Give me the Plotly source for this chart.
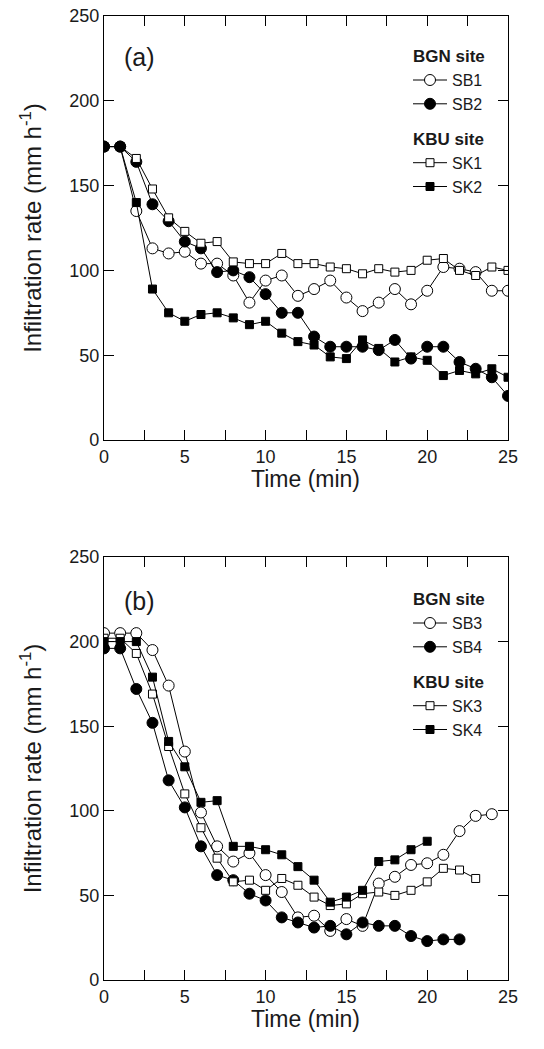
import plotly.graph_objects as go
from plotly.subplots import make_subplots

# time axis (min)
time_a = list(range(0, 26))
time_b = list(range(0, 25))

# panel (a) infiltration rates (mm h-1)
sb1 = [173, 173, 135, 113, 110, 111, 104, 104, 97, 81, 94, 97, 85, 89, 94, 84,
       76, 81, 89, 80, 88, 102, 101, 99, 88, 88]
sb2 = [173, 173, 164, 139, 129, 117, 113, 99, 100, 96, 86, 75, 75, 61, 55, 55,
       55, 53, 59, 48, 55, 55, 46, 42, 37, 26]
sk1 = [173, 173, 166, 148, 131, 123, 116, 117, 105, 104, 104, 110, 104, 104, 102, 101,
       98, 101, 99, 100, 106, 107, 100, 97, 102, 100]
sk2 = [173, 173, 140, 89, 75, 70, 74, 75, 72, 68, 70, 63, 58, 56, 49, 48,
       59, 54, 46, 49, 47, 38, 41, 39, 42, 37]

# panel (b)
sb3 = [205, 205, 205, 195, 174, 135, 99, 79, 70, 75, 62, 52, 37, 38, 29, 36,
       32, 57, 61, 68, 69, 74, 88, 97, 98]
sb4 = [196, 196, 172, 152, 118, 102, 79, 62, 59, 51, 47, 37, 34, 31, 32, 27,
       34, 32, 32, 26, 23, 24, 24]
sk3 = [202, 202, 193, 169, 138, 110, 90, 72, 58, 59, 53, 60, 56, 49, 44, 45,
       51, 52, 50, 53, 58, 66, 65, 60]
sk4 = [200, 200, 200, 179, 141, 126, 105, 106, 79, 79, 77, 74, 67, 59, 46, 49,
       53, 70, 71, 77, 82]

FONT = "Liberation Sans, Arial, sans-serif"
INK = "#1a1a1a"
W, H = 544, 1049
OFF = 8  # page body margin

fig = make_subplots(rows=2, cols=1)

def add(x, y, name, symbol, fill, size, row, group, legend):
    fig.add_trace(go.Scatter(
        x=x[:len(y)], y=y, name=name, mode="lines+markers",
        line=dict(color="black", width=1),
        marker=dict(symbol=symbol, size=size, color=fill,
                    line=dict(color="black", width=1)),
        legendgroup=group + legend,
        legendgrouptitle=dict(text="<b>" + group + " site</b>",
                              font=dict(size=17, family=FONT, color=INK)),
        legend=legend,
    ), row=row, col=1)

add(time_a, sb1, "SB1", "circle", "white", 11, 1, "BGN", "legend")
add(time_a, sb2, "SB2", "circle", "black", 11, 1, "BGN", "legend")
add(time_a, sk1, "SK1", "square", "white", 8, 1, "KBU", "legend")
add(time_a, sk2, "SK2", "square", "black", 8, 1, "KBU", "legend")
add(time_b, sb3, "SB3", "circle", "white", 11, 2, "BGN", "legend2")
add(time_b, sb4, "SB4", "circle", "black", 11, 2, "BGN", "legend2")
add(time_b, sk3, "SK3", "square", "white", 8, 2, "KBU", "legend2")
add(time_b, sk4, "SK4", "square", "black", 8, 2, "KBU", "legend2")

axis_style = dict(
    showline=True, linecolor="black", linewidth=1.2, mirror="ticks",
    ticks="inside", ticklen=10, tickwidth=1, tickcolor="black",
    showgrid=False, zeroline=False, automargin=False, ticklabeloverflow="allow",
    tickfont=dict(size=18, family=FONT, color=INK),
)
fig.update_xaxes(axis_style, range=[0, 25], dtick=5,
                 minor=dict(dtick=2.5, ticks="inside", ticklen=10, tickcolor="black"))
fig.update_yaxes(axis_style, range=[0, 250], dtick=50,
                 title=dict(text="Infiltration rate (mm h<sup>-1</sup>)",
                            font=dict(size=24, family=FONT, color=INK), standoff=20))

x0, x1 = (104 - OFF) / W, (508 - OFF) / W
fig.update_xaxes(domain=[x0, x1])
fig.update_yaxes(domain=[1 - (440 - OFF) / H, 1 - (16 - OFF) / H], row=1, col=1)
fig.update_yaxes(domain=[1 - (980 - OFF) / H, 1 - (557 - OFF) / H], row=2, col=1)

leg = dict(font=dict(size=16, family=FONT, color=INK), bgcolor="rgba(0,0,0,0)",
           tracegroupgap=10, itemwidth=34, xanchor="left", yanchor="top",
           x=(408 - OFF) / W)

title_font = dict(size=23, family=FONT, color=INK)
fig.update_layout(
    width=W, height=H, margin=dict(l=0, r=0, t=0, b=0),
    plot_bgcolor="white", paper_bgcolor="white", showlegend=True,
    legend=dict(leg, y=1 - 30 / H),
    legend2=dict(leg, y=1 - 573 / H),
    annotations=[
        dict(text="(a)", x=2.2, y=226, xref="x", yref="y", showarrow=False,
             xanchor="center", yanchor="middle", font=dict(size=25, family=FONT, color=INK)),
        dict(text="(b)", x=2.2, y=224, xref="x2", yref="y2", showarrow=False,
             xanchor="center", yanchor="middle", font=dict(size=25, family=FONT, color=INK)),
        dict(text="Time (min)", x=(x0 + x1) / 2, y=1 - (479 - OFF) / H, xref="paper", yref="paper",
             showarrow=False, xanchor="center", yanchor="middle", font=title_font),
        dict(text="Time (min)", x=(x0 + x1) / 2, y=1 - (1019 - OFF) / H, xref="paper", yref="paper",
             showarrow=False, xanchor="center", yanchor="middle", font=title_font),
    ],
)

fig.write_html("out.html")
